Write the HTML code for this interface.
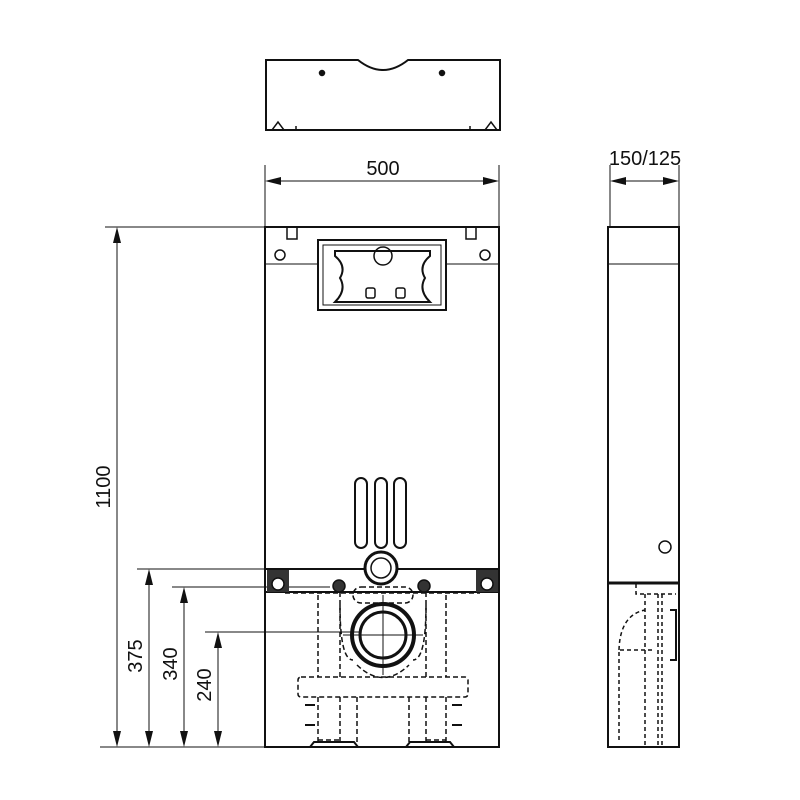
<!DOCTYPE html>
<html><head><style>body{margin:0;background:#fff}svg{display:block}</style></head><body>
<svg width="800" height="800" viewBox="0 0 800 800" xmlns="http://www.w3.org/2000/svg" font-family="Liberation Sans, sans-serif">
<rect width="800" height="800" fill="#fff"/>
<g fill="none" stroke="#111" stroke-width="1.5">
<!-- top cover -->
<path d="M266 60 H358 Q383 80 408 60 H500 V130 H266 Z" stroke-width="2"/>
<circle cx="322" cy="73" r="2.5" fill="#111"/><circle cx="442" cy="73" r="2.5" fill="#111"/>
<path d="M272 130 l6-8 l6 8 M485 130 l6-8 l6 8 M296 130 v-4 M470 130 v-4"/>
<!-- dims top -->
<g stroke-width="1">
<line x1="265" y1="165" x2="265" y2="227"/><line x1="499" y1="165" x2="499" y2="227"/>
<line x1="267" y1="181" x2="497" y2="181"/>
<line x1="610" y1="165" x2="610" y2="227"/><line x1="679" y1="165" x2="679" y2="227"/>
<line x1="612" y1="181" x2="677" y2="181"/>
<line x1="105" y1="227" x2="265" y2="227"/><line x1="100" y1="747" x2="265" y2="747"/>
<line x1="117" y1="229" x2="117" y2="745"/>
<line x1="137" y1="569" x2="290" y2="569"/><line x1="149" y1="571" x2="149" y2="745"/>
<line x1="172" y1="587" x2="330" y2="587"/><line x1="184" y1="589" x2="184" y2="745"/>
<line x1="205" y1="632" x2="360" y2="632"/><line x1="218" y1="634" x2="218" y2="745"/>
</g>
<g fill="#111" stroke="none">
<path d="M265 181 l16-4 v8z M499 181 l-16-4 v8z M610 181 l16-4 v8z M679 181 l-16-4 v8z"/>
<path d="M117 227 l-4 16 h8z M117 747 l-4-16 h8z M149 569 l-4 16 h8z M149 747 l-4-16 h8z M184 587 l-4 16 h8z M184 747 l-4-16 h8z M218 632 l-4 16 h8z M218 747 l-4-16 h8z"/>
</g>
<!-- main frame -->
<rect x="265" y="227" width="234" height="520" stroke-width="2"/>
<line x1="265" y1="264" x2="318" y2="264" stroke-width="1"/><line x1="446" y1="264" x2="499" y2="264" stroke-width="1"/>
<circle cx="280" cy="255" r="5"/><circle cx="485" cy="255" r="5"/>
<path d="M287 228 v11 h10 v-11 M466 228 v11 h10 v-11"/>
<rect x="318" y="240" width="128" height="70" stroke-width="2"/>
<rect x="323" y="245" width="118" height="60" stroke-width="1"/>
<path d="M335 251 h95 v5 q-12 10 -5 22 q-7 12 5 24 h-95 q12 -12 5 -24 q7 -12 -5 -22z" stroke-width="2"/>
<circle cx="383" cy="256" r="9"/>
<rect x="366" y="288" width="9" height="10" rx="2"/><rect x="396" y="288" width="9" height="10" rx="2"/>
<rect x="355" y="478" width="12" height="70" rx="6" stroke-width="2"/>
<rect x="375" y="478" width="12" height="70" rx="6" stroke-width="2"/>
<rect x="394" y="478" width="12" height="70" rx="6" stroke-width="2"/>
<!-- bar -->
<rect x="265" y="569" width="234" height="23" stroke-width="2"/>
<rect x="267" y="570" width="22" height="22" fill="#333" stroke="none"/>
<rect x="476" y="570" width="22" height="22" fill="#333" stroke="none"/>
<circle cx="278" cy="584" r="6" fill="#fff"/><circle cx="487" cy="584" r="6" fill="#fff"/>
<circle cx="339" cy="586" r="6" fill="#333"/><circle cx="424" cy="586" r="6" fill="#333"/>
<circle cx="381" cy="568" r="16" stroke-width="3" fill="#fff"/><circle cx="381" cy="568" r="10"/>
<rect x="353" y="587" width="60" height="16" rx="8" stroke-dasharray="5 3"/>
<circle cx="383" cy="635" r="31" stroke-width="4"/><circle cx="383" cy="635" r="23" stroke-width="3"/>
<line x1="383" y1="595" x2="383" y2="675" stroke-width="1"/><line x1="343" y1="635" x2="423" y2="635" stroke-width="1"/>
<g stroke-dasharray="5 3" stroke-width="1.5">
<path d="M318 595 V677 M340 592 V677 M426 592 V677 M446 595 V677 M285 593 H480"/>
<path d="M340 605 Q340 660 353 660 M426 605 Q426 660 413 660 M357 665 Q383 690 409 665"/>
<rect x="298" y="677" width="170" height="20" rx="3"/>
<path d="M318 697 V745 M340 697 V745 M357 697 V745 M409 697 V745 M426 697 V745 M446 697 V745 M318 740 H340 M426 740 H446"/>
</g>
<path d="M310 747 l4-5 h40 l4 5 M406 747 l4-5 h40 l4 5" stroke-width="2"/>
<path d="M305 705 h10 M305 725 h10 M452 705 h10 M452 725 h10" stroke-width="2"/>
<!-- side view -->
<rect x="608" y="227" width="71" height="520" stroke-width="2"/>
<line x1="608" y1="264" x2="679" y2="264" stroke-width="1"/>
<line x1="608" y1="583" x2="679" y2="583" stroke-width="3"/>
<circle cx="665" cy="547" r="6"/>
<g stroke-dasharray="4 3">
<path d="M636 584 V594 H676 M645 594 V745 M658 594 V745 M662 594 V745 M619 740 V650 H652 M619 650 Q620 615 645 610"/>
</g>
<path d="M670 610 H676 V660 H670" stroke-width="2"/>
</g>
<g fill="#111" font-size="20">
<text x="383" y="175" text-anchor="middle">500</text>
<text x="645" y="165" text-anchor="middle">150/125</text>
<text transform="translate(110,487) rotate(-90)" text-anchor="middle">1100</text>
<text transform="translate(142,656) rotate(-90)" text-anchor="middle">375</text>
<text transform="translate(177,664) rotate(-90)" text-anchor="middle">340</text>
<text transform="translate(211,685) rotate(-90)" text-anchor="middle">240</text>
</g>
</svg>
</body></html>
